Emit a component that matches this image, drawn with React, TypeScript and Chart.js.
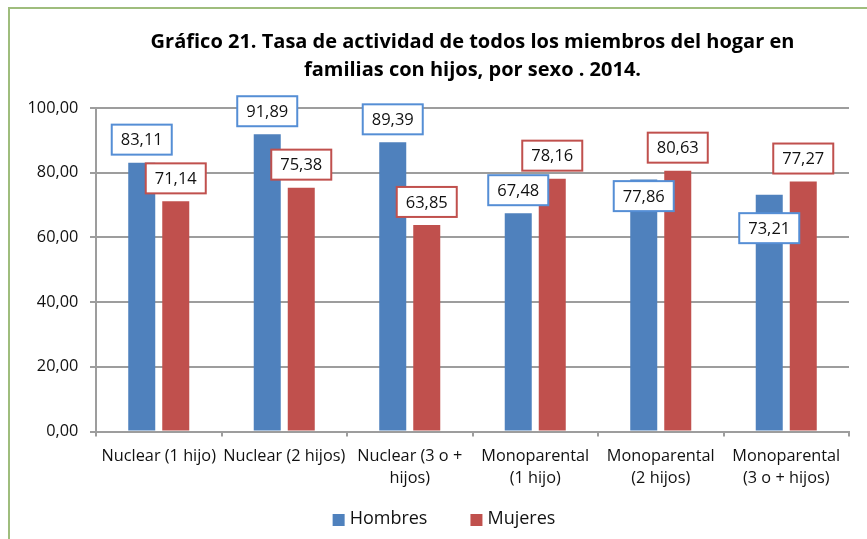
import React, { useEffect, useRef } from "react";
import { Chart, registerables } from "chart.js";

Chart.register(...registerables);

const categories: (string | string[])[] = [
  "Nuclear (1 hijo)",
  "Nuclear (2 hijos)",
  ["Nuclear (3 o +", "hijos)"],
  ["Monoparental", "(1 hijo)"],
  ["Monoparental", "(2 hijos)"],
  ["Monoparental", "(3 o + hijos)"],
];
const hombres = [83.11, 91.89, 89.39, 67.48, 77.86, 73.21];
const mujeres = [71.14, 75.38, 63.85, 78.16, 80.63, 77.27];
const titleLines = [
  "Gráfico 21. Tasa de actividad de todos los miembros del hogar en",
  "familias con hijos, por sexo . 2014.",
];
const yTickMin = 0;
const yTickMax = 100;
const yTickStep = 20;

// label placement tweaks (vertical pixel nudges, as in the original manual layout)
const hombresLabelNudge = [0, 0, 0, 0, 39.5, 56.5];
const mujeresLabelNudge = [0, 0, 0, 0, 0, 0];

const FONT = "'Open Sans', sans-serif";
const fmt = (v: number) => v.toFixed(2).replace(".", ",");

const framePlugin = {
  id: "frame",
  beforeDraw(chart: any) {
    const ctx = chart.ctx;
    ctx.save();
    ctx.fillStyle = "#ffffff";
    ctx.fillRect(0, 0, chart.width, chart.height);
    ctx.strokeStyle = "#9fbd7d";
    ctx.lineWidth = 2;
    ctx.beginPath();
    ctx.moveTo(9, chart.height + 2);
    ctx.lineTo(9, 8);
    ctx.lineTo(chart.width + 2, 8);
    ctx.stroke();
    ctx.restore();
  },
};

const valueLabelPlugin = {
  id: "valueLabels",
  afterDatasetsDraw(chart: any, _args: any, opts: any) {
    const ctx = chart.ctx;
    ctx.save();
    ctx.font = `16.5px ${FONT}`;
    chart.data.datasets.forEach((ds: any, i: number) => {
      const meta = chart.getDatasetMeta(i);
      const nudges = opts.nudges[i] || [];
      meta.data.forEach((el: any, j: number) => {
        const text = fmt(ds.data[j]);
        const tw = ctx.measureText(text).width;
        const w = tw + 18;
        const h = 30;
        const bottom = el.y - 8 + (nudges[j] || 0);
        const top = bottom - h;
        const left = el.x - w / 2;
        ctx.fillStyle = "#ffffff";
        ctx.fillRect(left, top, w, h);
        ctx.strokeStyle = opts.borders[i];
        ctx.lineWidth = 2;
        ctx.strokeRect(left, top, w, h);
        ctx.fillStyle = "#111111";
        ctx.textAlign = "center";
        ctx.textBaseline = "middle";
        ctx.fillText(text, el.x, top + h / 2 + 1);
      });
    });
    ctx.restore();
  },
};

const legendPlugin = {
  id: "customLegend",
  afterDraw(chart: any, _args: any, opts: any) {
    const ctx = chart.ctx;
    ctx.save();
    ctx.font = `18px ${FONT}`;
    const box = 12;
    const gapText = 5;
    const gapItem = 43;
    const items = chart.data.datasets.map((ds: any) => ({
      label: ds.label,
      color: ds.backgroundColor,
      w: box + gapText + ctx.measureText(ds.label).width,
    }));
    const total =
      items.reduce((s: number, it: any) => s + it.w, 0) + gapItem * (items.length - 1);
    let x = opts.centerX - total / 2;
    const cy = opts.centerY;
    items.forEach((it: any) => {
      ctx.fillStyle = it.color;
      ctx.fillRect(x, cy - box / 2 + 1, box, box);
      ctx.fillStyle = "#111111";
      ctx.textAlign = "left";
      ctx.textBaseline = "middle";
      ctx.fillText(it.label, x + box + gapText, cy);
      x += it.w + gapItem;
    });
    ctx.restore();
  },
};

export default function App() {
  const ref = useRef<HTMLCanvasElement | null>(null);
  useEffect(() => {
    if (!ref.current) return;
    const gridColor = "#9d9d9d";
    const chart = new Chart(ref.current, {
      type: "bar",
      data: {
        labels: categories,
        datasets: [
          {
            label: "Hombres",
            data: hombres,
            backgroundColor: "#4F81BD",
            categoryPercentage: 0.542,
            barPercentage: 0.794,
          },
          {
            label: "Mujeres",
            data: mujeres,
            backgroundColor: "#C0504D",
            categoryPercentage: 0.542,
            barPercentage: 0.794,
          },
        ],
      },
      options: {
        responsive: false,
        animation: false,
        devicePixelRatio: 1,
        layout: { padding: { left: 0, right: 18, top: 0, bottom: 41.5 } },
        scales: {
          x: {
            grid: {
              display: true,
              drawOnChartArea: false,
              drawTicks: true,
              tickLength: 5,
              color: gridColor,
              lineWidth: 2,
              offset: true,
            },
            border: { display: true, color: gridColor, width: 2 },
            ticks: {
              color: "#111111",
              font: { family: FONT, size: 16.3, lineHeight: "22px" },
              padding: 8.5,
              maxRotation: 0,
              autoSkip: false,
            },
          },
          y: {
            min: yTickMin,
            max: yTickMax,
            afterFit: (scale: any) => {
              scale.width = 96;
            },
            grid: {
              color: gridColor,
              lineWidth: 2,
              drawTicks: true,
              tickLength: 6,
            },
            border: { display: true, color: gridColor, width: 2 },
            ticks: {
              stepSize: yTickStep,
              color: "#111111",
              font: { family: FONT, size: 16.3 },
              padding: 11.7,
              callback: (v: any) => fmt(Number(v)),
            },
          },
        },
        plugins: {
          legend: { display: false },
          tooltip: { enabled: false },
          title: {
            display: true,
            fullSize: false,
            text: titleLines,
            color: "#000000",
            font: { family: FONT, size: 20, weight: "bold", lineHeight: "28.3px" },
            padding: { top: 28.1, bottom: 23.3 },
          },
          valueLabels: {
            nudges: [hombresLabelNudge, mujeresLabelNudge],
            borders: ["#558ED5", "#C0504D"],
          },
          customLegend: { centerX: 444, centerY: 519 },
        } as any,
      },
      plugins: [framePlugin, valueLabelPlugin, legendPlugin],
    });
    return () => chart.destroy();
  }, []);
  return (
    <div style={{ position: "absolute", left: 0, top: 0, width: 867, height: 539, overflow: "hidden" }}>
      <canvas ref={ref} width={867} height={539} style={{ display: "block" }} />
    </div>
  );
}
